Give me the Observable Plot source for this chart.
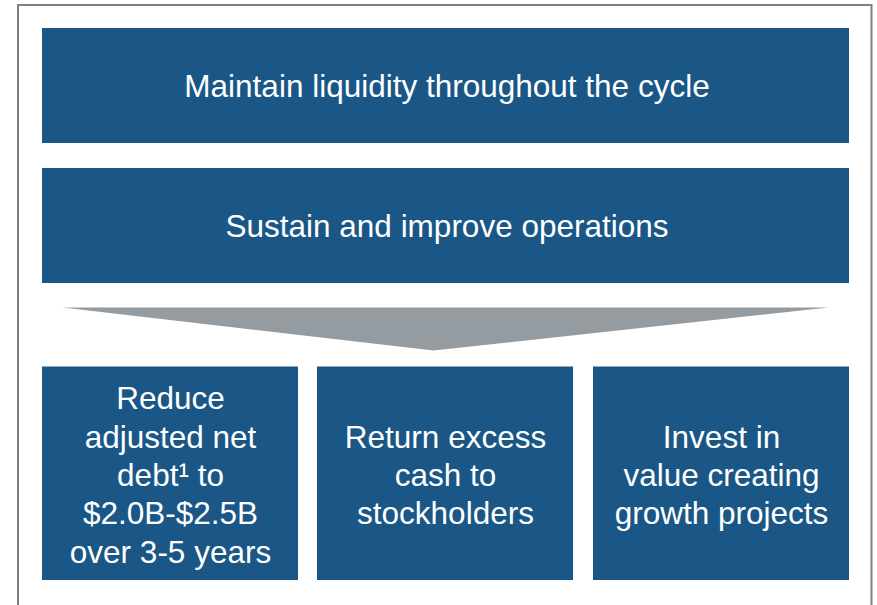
<!DOCTYPE html>
<html>
<head>
<meta charset="utf-8">
<script src="https://cdn.jsdelivr.net/npm/d3@7"></script>
<script src="https://cdn.jsdelivr.net/npm/@observablehq/plot@0.6"></script>
<style>
  html, body { margin: 0; padding: 0; background: #ffffff; }
  #chart svg { display: block; }
</style>
</head>
<body>
<div id="chart"></div>
<script>
// ---- Content ----
const topRowLabels = [
  "Maintain liquidity throughout the cycle",
  "Sustain and improve operations"
];
const bottomLabels = [
  "Reduce\nadjusted net\ndebt\u00b9 to\n$2.0B-$2.5B\nover 3-5 years",
  "Return excess\ncash to\nstockholders",
  "Invest in\nvalue creating\ngrowth projects"
];

// ---- Layout (diagram geometry, pixel units) ----
const W = 877, H = 605;
const frame = {x1: 18, x2: 871.5, y1: 5, y2: 640};
const wideRows = [{y1: 28, y2: 143}, {y1: 168, y2: 283}];
const wideX = {x1: 42, x2: 849};
const bottomCols = [{x1: 42, x2: 298}, {x1: 317, x2: 573}, {x1: 593, x2: 849}];
const bottomY = {y1: 366.5, y2: 580};
const funnel = [[62, 307], [828, 307], [433, 350]];

const BLUE = "#1a5786";
const GREY = "#959ca1";

const wideData = topRowLabels.map((label, i) => ({label, ...wideX, ...wideRows[i]}));
const bottomData = bottomLabels.map((label, i) => ({label, ...bottomCols[i], ...bottomY}));

const font = "'Liberation Sans', Arial, sans-serif";

const chart = Plot.plot({
  width: W,
  height: H,
  margin: 0,
  x: {domain: [0, W], range: [0, W], axis: null},
  y: {domain: [0, H], range: [0, H], axis: null},
  style: {fontFamily: font, background: "#ffffff"},
  marks: [
    Plot.rect([frame], {x1: "x1", x2: "x2", y1: "y1", y2: "y2", fill: "none", stroke: "#7f7f7f", strokeWidth: 2}),
    Plot.rect(wideData, {x1: "x1", x2: "x2", y1: "y1", y2: "y2", fill: BLUE}),
    Plot.line(funnel, {x: d => d[0], y: d => d[1], fill: GREY, stroke: "none"}),
    Plot.rect(bottomData, {x1: "x1", x2: "x2", y1: "y1", y2: "y2", fill: BLUE}),
    Plot.text(wideData, {
      x: d => (d.x1 + d.x2) / 2 + 1, y: d => (d.y1 + d.y2) / 2 + 1,
      text: "label", fill: "#ffffff", fontSize: 31.5, fontFamily: font, lineAnchor: "middle"
    }),
    Plot.text(bottomData, {
      x: d => (d.x1 + d.x2) / 2, y: d => (d.y1 + d.y2) / 2,
      text: "label", fill: "#ffffff", fontSize: 31.5, fontFamily: font, lineAnchor: "middle", lineHeight: 1.22
    })
  ]
});
document.getElementById("chart").appendChild(chart);
</script>
</body>
</html>
